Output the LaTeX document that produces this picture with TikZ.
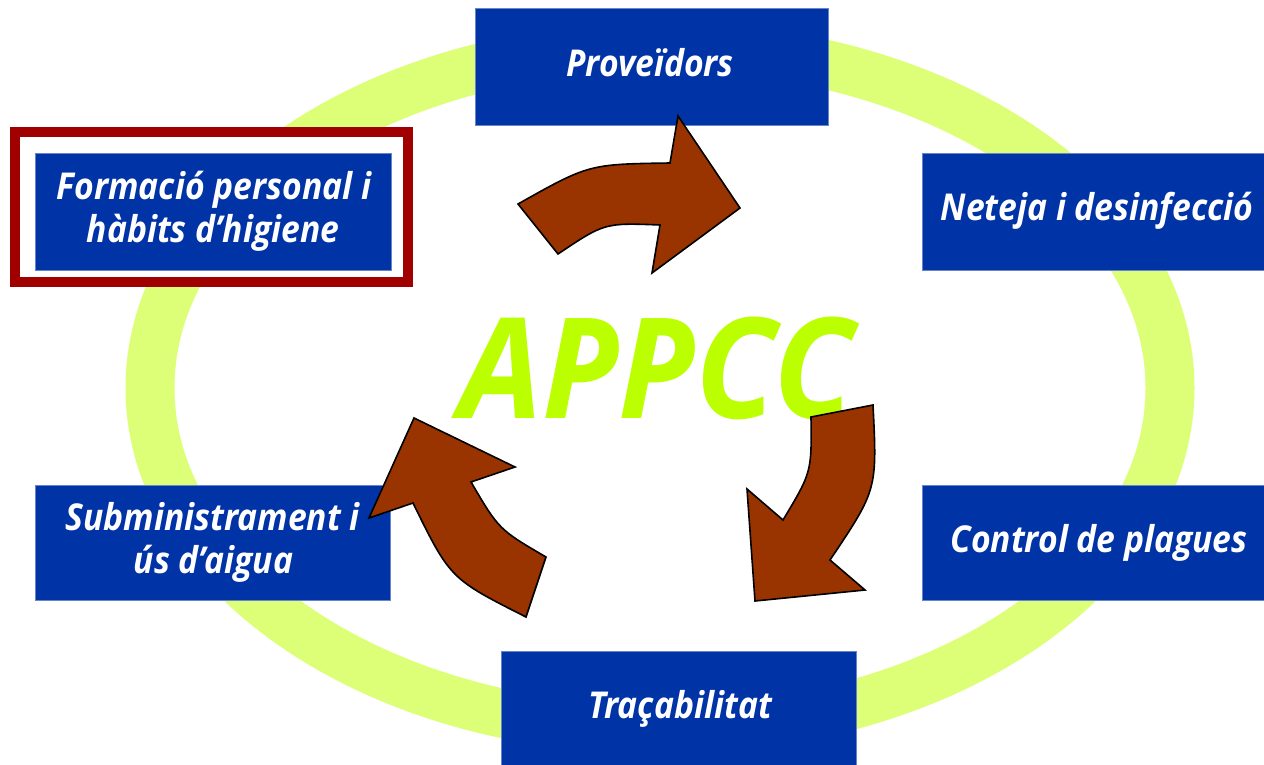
\documentclass[tikz,border=0pt]{standalone}
\usepackage{fontspec}
\setmainfont{Open Sans}
\newfontfamily\lblfont{Open Sans}[FakeStretch=0.91]
\newfontfamily\titlefont{Open Sans}[FakeStretch=0.945]
\definecolor{boxblue}{HTML}{0033A6}
\definecolor{ringgreen}{HTML}{DDFF77}
\definecolor{appccgreen}{HTML}{BBFF00}
\definecolor{arrowbrown}{HTML}{993300}
\definecolor{framered}{HTML}{A00000}
\tikzset{
  topicbox/.style={fill=boxblue, draw=boxblue!60!white, line width=0.8pt, inner sep=0pt},
  lbl/.style={text=white, inner sep=0pt, font=\lblfont\fontsize{37}{42}\selectfont\bfseries\itshape},
  cyclearrow/.style={fill=arrowbrown, draw=black, line width=1.6pt, line join=miter},
}
\begin{document}
\begin{tikzpicture}[x=1pt,y=-1pt]
\clip (0,0) rectangle (1264,765);
\fill[white] (0,0) rectangle (1264,765);
% ring
\draw[ringgreen, line width=49pt] (660,388) ellipse [x radius=510, y radius=342];
% highlight frame
\node[draw=framered, line width=10pt, fill=white, minimum width=393pt, minimum height=150pt, inner sep=0pt] (frame) at (211.5,207) {};
% boxes
\node[topicbox, minimum width=353pt, minimum height=117pt] (prov) at (651.5,66.5) {};
\node[topicbox, minimum width=356pt, minimum height=117pt] (form) at (213,211.5) {};
\node[topicbox, minimum width=351pt, minimum height=117pt] (net) at (1097.5,211.5) {};
\node[topicbox, minimum width=355pt, minimum height=115pt] (sub) at (212.5,542.5) {};
\node[topicbox, minimum width=354pt, minimum height=115pt] (ctrl) at (1099,542.5) {};
\node[topicbox, minimum width=355pt, minimum height=130pt] (trac) at (678.5,716) {};
% labels
\node[lbl, anchor=base] (provT) at (650,77) {Proveïdors};
\node[lbl, anchor=base] (formT1) at (214,200) {Formació personal i};
\node[lbl, anchor=base] (formT2) at (213,242) {hàbits d’higiene};
\node[lbl, anchor=base] (netT) at (1097,220) {Neteja i desinfecció};
\node[lbl, anchor=base] (subT1) at (212.5,530) {Subministrament i};
\node[lbl, anchor=base] (subT2) at (213.5,573) {ús d’aigua};
\node[lbl, anchor=base] (ctrlT) at (1099,552) {Control de plagues};
\node[lbl, anchor=base] (tracT) at (680,718) {Traçabilitat};
% central title
\node[anchor=base, inner sep=0pt, text=appccgreen, font=\titlefont\fontsize{140}{140}\selectfont\bfseries\itshape] (appcc) at (657,418) {APPCC};
% cycle arrows
\draw[cyclearrow] (518,204) -- (558,254) .. controls (604.6,222.8) .. (660,225) -- (652,273) -- (740,208) -- (678,116) -- (670,163) .. controls (588.7,164.2) .. (518,204) -- cycle;
\draw[cyclearrow] (811,417) -- (873,405) .. controls (877.2,489.7) .. (830,560) -- (865,590) -- (755,601) -- (747,489) -- (783,520) .. controls (811.7,472.2) .. (811,417) -- cycle;
\draw[cyclearrow] (526,617) -- (546,557) .. controls (498.9,529.5) .. (471,482) -- (515,467) -- (414,418) -- (369,518) -- (413,503) .. controls (450.2,578.7) .. (526,617) -- cycle;
\end{tikzpicture}
\end{document}
